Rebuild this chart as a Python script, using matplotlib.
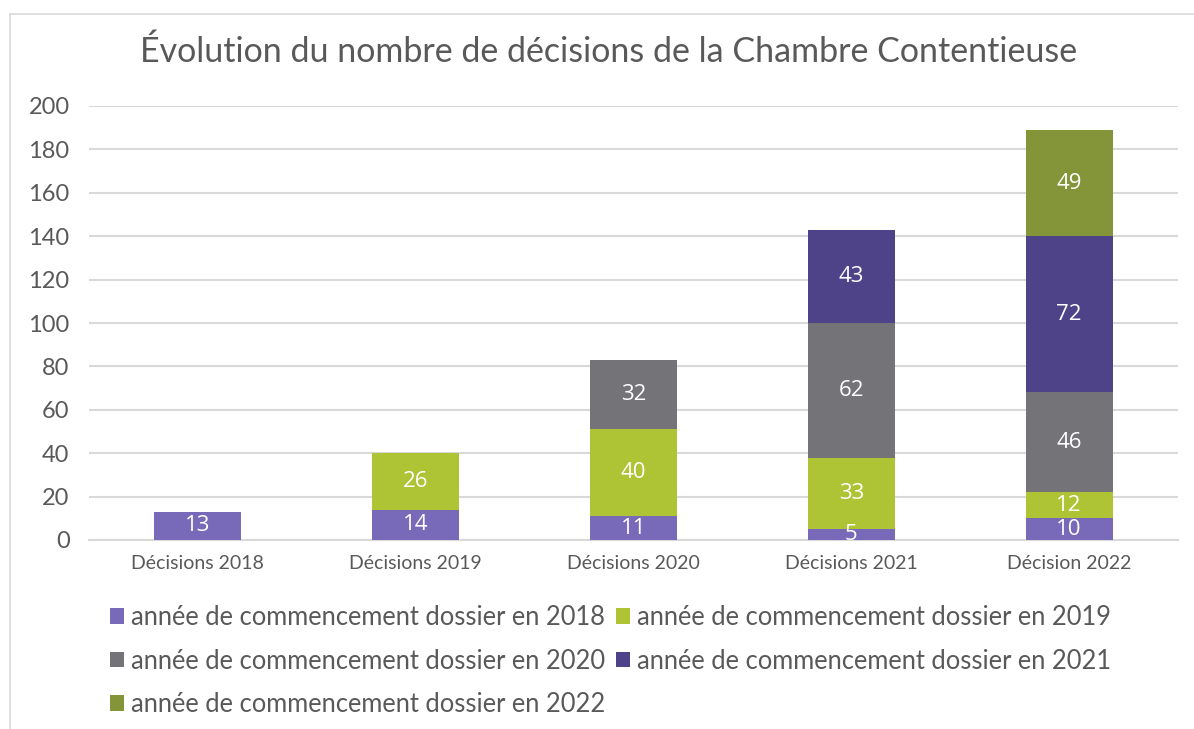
import matplotlib
matplotlib.use('Agg')
import matplotlib.pyplot as plt
import numpy as np
from matplotlib.lines import Line2D
from matplotlib.patches import Patch

categories = ["Décisions 2018", "Décisions 2019", "Décisions 2020", "Décisions 2021", "Décision 2022"]
series_names = [
    "année de commencement dossier en 2018",
    "année de commencement dossier en 2019",
    "année de commencement dossier en 2020",
    "année de commencement dossier en 2021",
    "année de commencement dossier en 2022",
]
start_2018 = [13, 14, 11, 5, 10]
start_2019 = [0, 26, 40, 33, 12]
start_2020 = [0, 0, 32, 62, 46]
start_2021 = [0, 0, 0, 43, 72]
start_2022 = [0, 0, 0, 0, 49]
colors = ["#786ab9", "#afc435", "#747378", "#4e4288", "#839538"]

plt.rcParams['font.family'] = ['Lato', 'DejaVu Sans']

fig = plt.figure(figsize=(11.94, 7.29), dpi=100)
ax = fig.add_axes([89 / 1194, 1 - 540 / 729, (1178 - 89) / 1194, (540 - 106) / 729])

x = np.arange(len(categories))
bottom = np.zeros(len(categories))
handles = []
for name, vals, col in zip(series_names, [start_2018, start_2019, start_2020, start_2021, start_2022], colors):
    vals = np.array(vals, dtype=float)
    ax.bar(x, vals, width=0.4, bottom=bottom, color=col, zorder=3)
    for i, v in enumerate(vals):
        if v > 0:
            ax.text(x[i], bottom[i] + v / 2, f"{int(v)}", ha='center', va='center',
                    color='white', fontsize=16, family=['Open Sans', 'DejaVu Sans'], zorder=4)
    bottom += vals
    handles.append(Patch(facecolor=col, label=name))

ax.set_xlim(-0.5, len(categories) - 0.5)
ax.set_ylim(0, 200)
ax.set_yticks(range(0, 201, 20))
ax.set_xticks(x)
ax.set_xticklabels(categories, fontsize=14, color='#595959')
ax.tick_params(axis='y', labelsize=17, labelcolor='#595959', length=0, pad=14)
ax.tick_params(axis='x', length=0, pad=11)
ax.grid(True, axis='y', color='#d9d9d9', linewidth=1.5, zorder=0)
for s in ['top', 'right', 'left']:
    ax.spines[s].set_visible(False)
ax.spines['bottom'].set_color('#d9d9d9')
ax.spines['bottom'].set_linewidth(1.5)

fig.text(0.51, 1 - 52 / 729, "Évolution du nombre de décisions de la Chambre Contentieuse",
         ha='center', va='center', fontsize=24.5, color='#595959')

# legend in row order: two columns
order = [0, 2, 4, 1, 3]
leg = fig.legend([handles[i] for i in order], [series_names[i] for i in order],
                 loc='upper left', bbox_to_anchor=(100 / 1194, 1 - 595 / 729), ncol=2,
                 frameon=False, fontsize=18.4, labelcolor='#595959',
                 handlelength=0.55, handleheight=0.55, handletextpad=0.25,
                 columnspacing=0.45, labelspacing=0.72, borderaxespad=0)

# outer chart frame
fig.add_artist(Line2D([10 / 1194, 1], [1 - 14 / 729, 1 - 14 / 729], color='#d9d9d9', lw=1.2))
fig.add_artist(Line2D([10 / 1194, 10 / 1194], [0, 1 - 14 / 729], color='#d9d9d9', lw=1.2))

fig.savefig("out.png", dpi=100)
